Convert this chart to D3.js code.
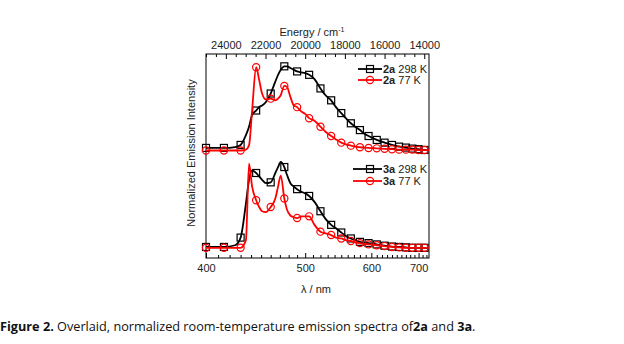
<!DOCTYPE html>
<html>
<head>
<meta charset="utf-8">
<script src="https://cdn.jsdelivr.net/npm/d3@7"></script>
<style>
  html, body { margin: 0; padding: 0; background: #fff; }
  svg { display: block; font-family: "Liberation Sans", Arial, sans-serif; }
</style>
</head>
<body>
<div id="chart"></div>
<script>
// Wavelength grid (nm) shared by all four spectra
const wavelengths = [400, 410, 415, 425, 430, 435, 438, 441, 445, 448, 451, 455, 460, 465, 468,
  471, 475, 478, 482, 486, 490, 495, 500, 505, 512, 520, 527, 535, 542, 550, 557, 565, 572, 580,
  587, 595, 610, 625, 640, 655, 670, 685, 700, 715, 726];

// Normalized intensities
const i2a298 = [0, 0, 0, 0.01, 0.035, 0.15, 0.25, 0.39, 0.44, 0.48, 0.5, 0.54, 0.64, 0.78, 0.86,
  0.92, 0.96, 0.96, 0.94, 0.92, 0.9, 0.89, 0.88, 0.86, 0.81, 0.7, 0.62, 0.56, 0.48, 0.41, 0.35, 0.29,
  0.25, 0.21, 0.17, 0.14, 0.094, 0.062, 0.035, 0.015, 0.004, -0.008, -0.015, -0.024, -0.03];
const i2a77 = [-0.03, -0.03, -0.03, -0.03, -0.03, -0.02, 0.03, 0.44, 0.95, 0.8, 0.64, 0.57, 0.58,
  0.56, 0.58, 0.62, 0.73, 0.72, 0.6, 0.5, 0.48, 0.43, 0.4, 0.35, 0.32, 0.25, 0.19, 0.14, 0.1, 0.062,
  0.043, 0.027, 0.015, 0.008, 0.004, 0, -0.005, -0.01, -0.015, -0.02, -0.02, -0.02, -0.025, -0.025, -0.025];
const i3a298 = [0, 0, 0, 0.02, 0.11, 0.51, 0.79, 0.9, 0.87, 0.83, 0.79, 0.75, 0.76, 0.87, 0.94,
  1.0, 0.94, 0.85, 0.75, 0.71, 0.68, 0.65, 0.63, 0.6, 0.53, 0.42, 0.33, 0.26, 0.22, 0.17, 0.13, 0.1,
  0.08, 0.06, 0.05, 0.045, 0.03, 0.015, 0.005, 0, -0.005, -0.01, -0.01, -0.01, -0.01];
const i3a77 = [-0.01, -0.01, -0.01, -0.01, -0.01, 0.08, 0.98, 0.71, 0.55, 0.47, 0.42, 0.41, 0.47,
  0.57, 0.71, 0.84, 0.57, 0.44, 0.37, 0.35, 0.34, 0.36, 0.36, 0.36, 0.26, 0.18, 0.16, 0.14, 0.11, 0.1,
  0.08, 0.07, 0.055, 0.045, 0.035, 0.03, 0.02, 0.01, 0, -0.005, -0.01, -0.01, -0.01, -0.01, -0.01];

// Axis ticks
const energyTicks = [24000, 22000, 20000, 18000, 16000, 14000];
const lambdaTicks = [400, 500, 600, 700];

// Series definitions: compound, temperature, values, vertical offset
const seriesNames = ['2a 298 K', '2a 77 K', '3a 298 K', '3a 77 K'];
const seriesValues = [i2a298, i2a77, i3a298, i3a77];
const seriesOffsets = [1.165, 1.165, 0, 0];
const seriesColors = ['#000000', '#ff0000', '#000000', '#ff0000'];
const seriesSymbols = ['square', 'circle', 'square', 'circle'];

(function() {
  'use strict';

  const width = 624;
  const height = 344;
  const plot = { left: 206, right: 429, top: 54, bottom: 258 };

  const svg = d3.select('#chart')
    .append('svg')
    .attr('width', width)
    .attr('height', height);

  // x axis is linear in energy (cm-1); wavelengths are placed at 1e7 / lambda
  const x = d3.scaleLinear()
    .domain([25000, 13760])
    .range([plot.left, plot.right]);

  const y = d3.scaleLinear()
    .domain([-0.13, 2.27])
    .range([plot.bottom, plot.top]);

  const xl = function(l) { return x(1e7 / l); };

  // Plot frame
  svg.append('rect')
    .attr('x', plot.left)
    .attr('y', plot.top)
    .attr('width', plot.right - plot.left)
    .attr('height', plot.bottom - plot.top)
    .attr('fill', 'none')
    .attr('stroke', '#000')
    .attr('stroke-width', 1);

  // Top axis: energy
  const minorEnergy = d3.range(25000, 13700, -500).filter(function(e) { return e % 2000 !== 0; });
  svg.append('g')
    .attr('transform', 'translate(0,' + plot.top + ')')
    .call(d3.axisTop(x).tickValues(minorEnergy).tickSize(-3).tickFormat(''))
    .call(function(g) { g.select('.domain').remove(); });

  svg.append('g')
    .attr('class', 'axis-top')
    .attr('transform', 'translate(0,' + plot.top + ')')
    .call(d3.axisTop(x).tickValues(energyTicks).tickSize(-5).tickPadding(5).tickFormat(d3.format('d')))
    .call(function(g) { g.select('.domain').remove(); });

  // Bottom axis: wavelength
  const minorLambda = d3.range(410, 730, 10).filter(function(l) { return l % 100 !== 0; });
  svg.append('g')
    .attr('transform', 'translate(0,' + plot.bottom + ')')
    .call(d3.axisBottom(d3.scaleIdentity()).tickValues(minorLambda.map(xl)).tickSize(-3).tickFormat(''))
    .call(function(g) { g.select('.domain').remove(); });

  const xLambda = d3.scaleLinear().domain(x.range()).range(x.range());
  svg.append('g')
    .attr('class', 'axis-bottom')
    .attr('transform', 'translate(0,' + plot.bottom + ')')
    .call(d3.axisBottom(xLambda).tickValues(lambdaTicks.map(xl)).tickSize(-5).tickPadding(6)
      .tickFormat(function(d, i) { return lambdaTicks[i]; }))
    .call(function(g) { g.select('.domain').remove(); });

  svg.selectAll('.tick line').attr('stroke', '#000');
  svg.selectAll('.axis-top text, .axis-bottom text')
    .attr('font-family', '"Liberation Sans", Arial, sans-serif')
    .attr('font-size', 11)
    .attr('fill', '#222');

  // Axis titles
  const energyTitle = svg.append('text')
    .attr('x', 312)
    .attr('y', 36)
    .attr('text-anchor', 'middle')
    .attr('font-size', 11)
    .attr('fill', '#222');
  energyTitle.append('tspan').text('Energy / cm');
  energyTitle.append('tspan').attr('font-size', 7).attr('dy', -4).text('-1');

  svg.append('text')
    .attr('x', 316)
    .attr('y', 293)
    .attr('text-anchor', 'middle')
    .attr('font-size', 11)
    .attr('fill', '#222')
    .text('\u03bb / nm');

  svg.append('text')
    .attr('transform', 'translate(195,153) rotate(-90)')
    .attr('text-anchor', 'middle')
    .attr('font-size', 11)
    .attr('fill', '#222')
    .text('Normalized Emission Intensity');

  // Spectra
  const line = d3.line()
    .x(function(d) { return xl(d[0]); })
    .y(function(d) { return y(d[1]); })
    .curve(d3.curveMonotoneX);

  function drawSymbol(g, type, cx, cy, color) {
    if (type === 'square') {
      g.append('rect')
        .attr('x', cx - 3.5).attr('y', cy - 3.5)
        .attr('width', 7).attr('height', 7)
        .attr('fill', 'none')
        .attr('stroke', color)
        .attr('stroke-width', 1.2);
    } else {
      g.append('circle')
        .attr('cx', cx).attr('cy', cy)
        .attr('r', 3.6)
        .attr('fill', 'none')
        .attr('stroke', color)
        .attr('stroke-width', 1.2);
    }
  }

  const drawOrder = [0, 1, 2, 3];
  drawOrder.forEach(function(s) {
    const pts = wavelengths.map(function(l, i) {
      return [l, seriesValues[s][i] + seriesOffsets[s]];
    });
    const g = svg.append('g').attr('class', 'series');
    g.append('path')
      .datum(pts)
      .attr('d', line)
      .attr('fill', 'none')
      .attr('stroke', seriesColors[s])
      .attr('stroke-width', 1.8);

    // Symbols every 15 nm
    pts.filter(function(p) { return (p[0] - 400) % 15 === 0; })
      .forEach(function(p) {
        drawSymbol(g, seriesSymbols[s], xl(p[0]), y(p[1]), seriesColors[s]);
      });
  });

  // Legends
  const legendRows = [
    { s: 0, y: 69, x1: 358 },
    { s: 1, y: 80, x1: 358 },
    { s: 2, y: 169, x1: 353 },
    { s: 3, y: 181, x1: 353 }
  ];
  legendRows.forEach(function(r) {
    const g = svg.append('g').attr('class', 'legend');
    g.append('line')
      .attr('x1', r.x1).attr('x2', 382)
      .attr('y1', r.y).attr('y2', r.y)
      .attr('stroke', seriesColors[r.s])
      .attr('stroke-width', 1.8);
    drawSymbol(g, seriesSymbols[r.s], 370, r.y, seriesColors[r.s]);
    const parts = seriesNames[r.s].split(' ');
    const t = g.append('text')
      .attr('x', 383)
      .attr('y', r.y + 4)
      .attr('font-size', 11)
      .attr('fill', '#222');
    t.append('tspan').attr('font-weight', 'bold').text(parts[0]);
    t.append('tspan').text(' ' + parts.slice(1).join(' '));
  });

  // Caption
  const caption = svg.append('text')
    .attr('x', 0)
    .attr('y', 331)
    .attr('font-family', '"Open Sans", "Noto Sans", sans-serif')
    .attr('font-size', 12.7)
    .attr('fill', '#111');
  caption.append('tspan').attr('font-weight', 'bold').text('Figure 2.');
  caption.append('tspan').text(' Overlaid, normalized room-temperature emission spectra of');
  caption.append('tspan').attr('font-weight', 'bold').text('2a');
  caption.append('tspan').text(' and ');
  caption.append('tspan').attr('font-weight', 'bold').text('3a');
  caption.append('tspan').text('.');
})();
</script>
</body>
</html>
